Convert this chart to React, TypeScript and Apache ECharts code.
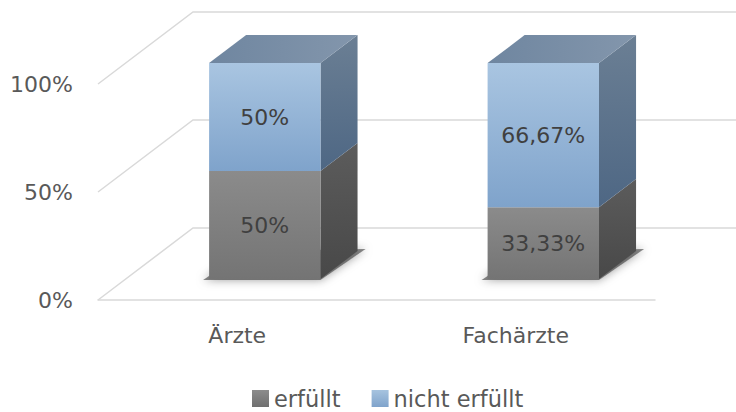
import React, { useEffect, useRef } from "react";
import * as echarts from "echarts";

const categories = ["Ärzte", "Fachärzte"];
const erfuellt = [50, 33.33];
const nichtErfuellt = [50, 66.67];
const yTicks = [0, 50, 100];
const seriesNames = ["erfüllt", "nicht erfüllt"];

const FONT = '"DejaVu Sans", Verdana, sans-serif';
const DEPTH_X = 95;
const DEPTH_Y = 72;
const BAR_FRONT = 0.29;
const BAR_DEPTH = 0.39;

const lg = (a: string, b: string) =>
  new echarts.graphic.LinearGradient(0, 0, 0, 1, [
    { offset: 0, color: a },
    { offset: 1, color: b },
  ]);

const fmt = (v: number) => {
  const s = Number.isInteger(v) ? String(v) : v.toFixed(2);
  return s.replace(".", ",") + "%";
};

type Pal = { front: [string, string]; side: [string, string]; top?: [string, string] };

const grayPal: Pal = { front: ["#8b8b8b", "#747474"], side: ["#5c5c5c", "#484848"] };
const bluePal: Pal = {
  front: ["#a9c5e1", "#7fa3cb"],
  side: ["#6b7f94", "#4e6784"],
  top: ["#7a8fa6", "#7489a2"],
};

function makeBarRender(pal: Pal, isTop: boolean) {
  return (params: any, api: any) => {
    const idx = api.value(0);
    const base = api.value(1);
    const top = api.value(2);
    const pB = api.coord([idx, base]);
    const pT = api.coord([idx, top]);
    const band = api.size([1, 0])[0];
    const w = band * 0.4;
    const fx = BAR_FRONT * DEPTH_X;
    const fy = BAR_FRONT * DEPTH_Y;
    const dx = BAR_DEPTH * DEPTH_X;
    const dy = BAR_DEPTH * DEPTH_Y;
    const x1 = pB[0] - w / 2 + fx;
    const x2 = x1 + w;
    const yB = pB[1] - fy;
    const yT = pT[1] - fy;
    const children: any[] = [];
    if (base === 0) {
      children.push({
        type: "polygon",
        shape: {
          points: [
            [x1 - 6, yB + 1],
            [x2, yB + 1],
            [x2 + dx + 8, yB - dy - 2],
            [x1 + dx, yB - dy],
          ],
        },
        style: { fill: "rgba(40,40,40,0.55)", shadowBlur: 10, shadowColor: "rgba(0,0,0,0.7)" },
      });
    }
    children.push({
      type: "polygon",
      shape: {
        points: [
          [x2, yT],
          [x2 + dx, yT - dy],
          [x2 + dx, yB - dy],
          [x2, yB],
        ],
      },
      style: { fill: lg(pal.side[0], pal.side[1]) },
    });
    children.push({
      type: "rect",
      shape: { x: x1, y: yT, width: w, height: yB - yT },
      style: { fill: lg(pal.front[0], pal.front[1]) },
    });
    if (isTop && pal.top) {
      children.push({
        type: "polygon",
        shape: {
          points: [
            [x1, yT],
            [x1 + dx, yT - dy],
            [x2 + dx, yT - dy],
            [x2, yT],
          ],
        },
        style: {
          fill: new echarts.graphic.LinearGradient(0, 0, 1, 0, [
            { offset: 0, color: "#6f86a0" },
            { offset: 1, color: "#8396ac" },
          ]),
        },
      });
    }
    children.push({
      type: "text",
      x: (x1 + x2) / 2,
      y: (yT + yB) / 2,
      style: {
        text: fmt(top - base),
        align: "center",
        verticalAlign: "middle",
        fill: "#404040",
        fontSize: 22,
        fontFamily: FONT,
      },
    });
    return { type: "group", children };
  };
}

export default function App() {
  const ref = useRef<HTMLDivElement>(null);
  useEffect(() => {
    if (!ref.current) return;
    const chart = echarts.init(ref.current, undefined, { renderer: "svg" });
    const gridData = yTicks.map((v) => [0, v]);
    const d1 = categories.map((_, i) => [i, 0, erfuellt[i]]);
    const d2 = categories.map((_, i) => [i, erfuellt[i], erfuellt[i] + nichtErfuellt[i]]);
    chart.setOption({
      animation: false,
      backgroundColor: "#ffffff",
      grid: { left: 98, right: 81, top: 84, bottom: 112 },
      legend: {
        data: seriesNames,
        left: 252,
        top: 387,
        padding: 0,
        icon: "rect",
        itemWidth: 17,
        itemHeight: 17,
        itemGap: 31,
        textStyle: { fontSize: 22.5, color: "#595959", fontFamily: FONT },
      },
      xAxis: {
        type: "category",
        data: categories,
        axisTick: { show: false },
        axisLine: { lineStyle: { color: "#d9d9d9", width: 1.5 } },
        axisLabel: { color: "#595959", fontSize: 22, fontFamily: FONT, margin: 24 },
      },
      yAxis: {
        type: "value",
        min: 0,
        max: 100,
        interval: 50,
        axisLine: { show: false },
        axisTick: { show: false },
        splitLine: { show: false },
        axisLabel: {
          formatter: "{value}%",
          color: "#595959",
          fontSize: 22,
          fontFamily: FONT,
          margin: 25,
        },
      },
      series: [
        {
          type: "custom",
          name: "grid",
          z: 1,
          clip: false,
          silent: true,
          data: gridData,
          renderItem: (params: any, api: any) => {
            const y = api.coord([0, api.value(1)])[1];
            const x0 = params.coordSys.x;
            return {
              type: "polyline",
              shape: {
                points: [
                  [x0, y],
                  [x0 + DEPTH_X, y - DEPTH_Y],
                  [api.getWidth(), y - DEPTH_Y],
                ],
              },
              style: { stroke: "#d9d9d9", lineWidth: 1.5, fill: "none" },
            };
          },
        },
        {
          type: "custom",
          name: seriesNames[0],
          z: 2,
          clip: false,
          itemStyle: { color: lg("#8c8c8c", "#6f6f6f") },
          data: d1,
          renderItem: makeBarRender(grayPal, false),
        },
        {
          type: "custom",
          name: seriesNames[1],
          z: 3,
          clip: false,
          itemStyle: { color: lg("#a6c3df", "#7fa3cb") },
          data: d2,
          renderItem: makeBarRender(bluePal, true),
        },
      ],
    });
    return () => chart.dispose();
  }, []);
  return (
    <div
      ref={ref}
      style={{ position: "fixed", left: 0, top: 0, width: 736, height: 412 }}
    />
  );
}
